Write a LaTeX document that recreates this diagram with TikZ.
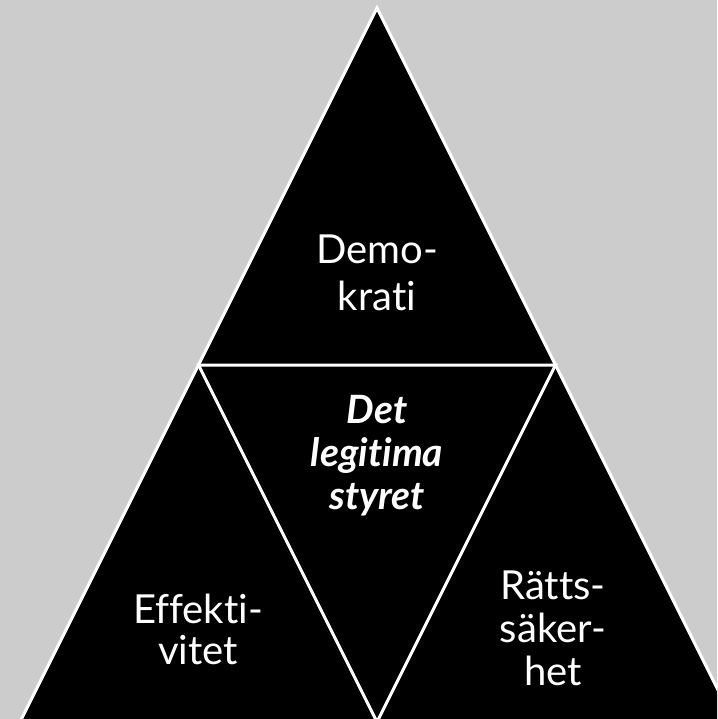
\documentclass[tikz,border=0pt]{standalone}
\usepackage{fontspec}
\setmainfont{Lato}[Ligatures=NoCommon]
\usetikzlibrary{calc}
\definecolor{bggray}{RGB}{204,204,204}

\begin{document}
\begin{tikzpicture}[x=1pt, y=-1pt]
        \useasboundingbox (0,0) rectangle (717,719);
        \clip (0,0) rectangle (717,719);
        \fill[bggray] (0,0) rectangle (717,719);
        \coordinate (top) at (377,8);
        \coordinate (left) at (20,722);
        \coordinate (right) at (734,722);
        \coordinate (midl) at ($(top)!0.5!(left)$);
        \coordinate (midr) at ($(top)!0.5!(right)$);
        \coordinate (midb) at ($(left)!0.5!(right)$);
        \filldraw[fill=black, draw=white, line width=3pt] (top) -- (right) -- (left) -- cycle;
        \draw[white, line width=3pt] (midl) -- (midr) -- (midb) -- cycle;
        \node[white, inner sep=0pt, align=center, font=\fontsize{40}{47}\selectfont] (demokrati) at (377, 273) {Demo-\\krati};
        \node[white, inner sep=0pt, align=center, font=\fontsize{39}{43}\selectfont\bfseries\itshape] (styret) at (377, 456) {Det\\legitima\\styret};
        \node[white, inner sep=0pt, align=center, font=\fontsize{40}{41}\selectfont] (effektivitet) at (198, 629) {Effekti-\\vitet};
        \node[white, inner sep=0pt, align=center, font=\fontsize{40}{43}\selectfont] (rattssakerhet) at (553, 628) {Rätts-\\säker-\\het};
\end{tikzpicture}
\end{document}
